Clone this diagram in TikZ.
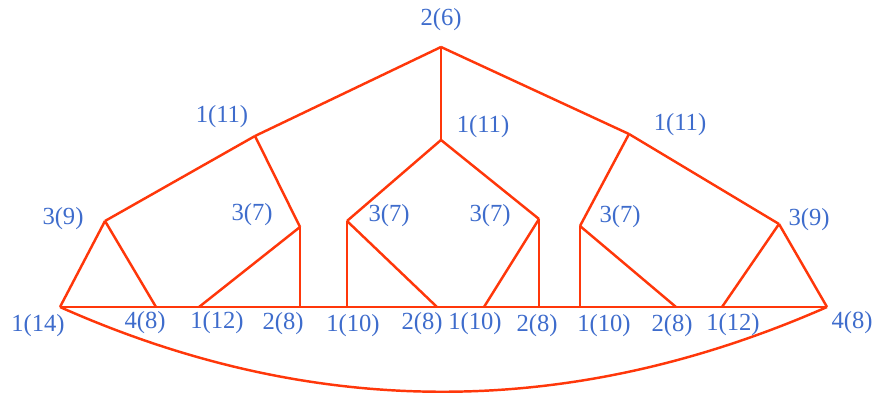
\documentclass[tikz,border=0pt]{standalone}
\usepackage{fontspec}
\setmainfont{Liberation Serif}
\definecolor{treered}{RGB}{255,55,10}
\definecolor{labelblue}{RGB}{62,108,204}

\begin{document}
\begin{tikzpicture}[x=0.02cm, y=-0.02cm]

  % Styles
  \tikzset{
    edge/.style={draw=treered, line width=1.4pt, line join=miter},
    num label/.style={text=labelblue, font=\fontsize{14}{16}\selectfont, inner sep=1pt}
  }

  \useasboundingbox (0,0) rectangle (875,396);

  % --- JUNCTIONS (pixel grid, y downwards) ---
  \coordinate (top) at (441,47);
  \coordinate (ul) at (255,136);
  \coordinate (uc) at (441,140);
  \coordinate (ur) at (629,134);
  \coordinate (ml) at (105,221);
  \coordinate (mr) at (779,224);
  \coordinate (s1) at (300,227);
  \coordinate (s2) at (347,221);
  \coordinate (s3) at (539,219);
  \coordinate (s4) at (580,226);

  % Bottom row
  \coordinate (b1) at (60,307);
  \coordinate (b2) at (156,307);
  \coordinate (b3) at (199,307);
  \coordinate (b4) at (300,307);
  \coordinate (b5) at (347,307);
  \coordinate (b6) at (437,307);
  \coordinate (b7) at (484,307);
  \coordinate (b8) at (539,307);
  \coordinate (b9) at (580,307);
  \coordinate (b10) at (676,307);
  \coordinate (b11) at (722,307);
  \coordinate (b12) at (827,307);

  % --- EDGES ---
  \draw[edge] (top) -- (ul);
  \draw[edge] (top) -- (uc);
  \draw[edge] (top) -- (ur);
  \draw[edge] (ul) -- (ml);
  \draw[edge] (ul) -- (s1);
  \draw[edge] (uc) -- (s2);
  \draw[edge] (uc) -- (s3);
  \draw[edge] (ur) -- (s4);
  \draw[edge] (ur) -- (mr);
  \draw[edge] (ml) -- (b1);
  \draw[edge] (ml) -- (b2);
  \draw[edge] (s1) -- (b3);
  \draw[edge] (s1) -- (b4);
  \draw[edge] (s2) -- (b5);
  \draw[edge] (s2) -- (b6);
  \draw[edge] (s3) -- (b7);
  \draw[edge] (s3) -- (b8);
  \draw[edge] (s4) -- (b9);
  \draw[edge] (s4) -- (b10);
  \draw[edge] (mr) -- (b11);
  \draw[edge] (mr) -- (b12);

  % Baseline and closing arc
  \draw[edge] (b1) -- (b12);
  \draw[edge] (b1) .. controls (314,420) and (570,420) .. (b12);

  % --- LABELS ---
  \node[num label] (top-l) at (441,20) {2(6)};
  \node[num label] (ul-l) at (222,117) {1(11)};
  \node[num label] (uc-l) at (483,127) {1(11)};
  \node[num label] (ur-l) at (680,125) {1(11)};
  \node[num label] (ml-l) at (63,219) {3(9)};
  \node[num label] (mr-l) at (809,220) {3(9)};
  \node[num label] (s1-l) at (252,215) {3(7)};
  \node[num label] (s2-l) at (389,216) {3(7)};
  \node[num label] (s3-l) at (490,216) {3(7)};
  \node[num label] (s4-l) at (620,217) {3(7)};

  \node[num label] (b1-l) at (38,326) {1(14)};
  \node[num label] (b2-l) at (145,323) {4(8)};
  \node[num label] (b3-l) at (217,323) {1(12)};
  \node[num label] (b4-l) at (283,324) {2(8)};
  \node[num label] (b5-l) at (353,326) {1(10)};
  \node[num label] (b6-l) at (422,324) {2(8)};
  \node[num label] (b7-l) at (475,324) {1(10)};
  \node[num label] (b8-l) at (537,326) {2(8)};
  \node[num label] (b9-l) at (604,326) {1(10)};
  \node[num label] (b10-l) at (672,326) {2(8)};
  \node[num label] (b11-l) at (733,325) {1(12)};
  \node[num label] (b12-l) at (852,323) {4(8)};

\end{tikzpicture}
\end{document}
